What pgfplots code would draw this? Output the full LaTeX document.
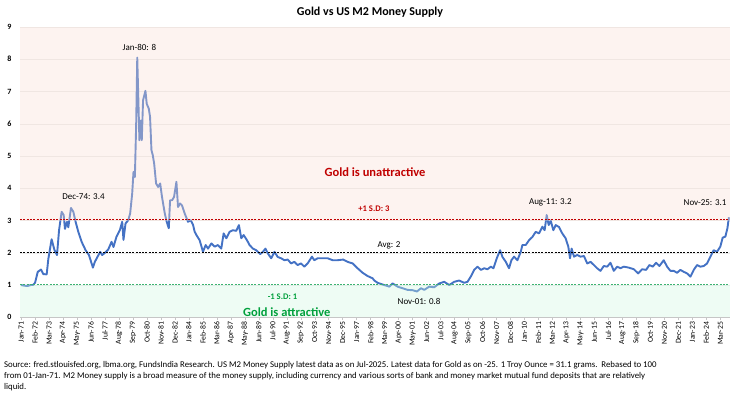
\documentclass[border=0pt]{standalone}
\usepackage{pgfplots}
\pgfplotsset{compat=1.18}
\usepackage{fontspec}
\setmainfont{Carlito}
\definecolor{lineblue}{RGB}{68,114,196}
\definecolor{bandpink}{RGB}{250,221,212}
\definecolor{bandgreen}{RGB}{206,246,224}
\definecolor{sdred}{RGB}{192,0,0}
\definecolor{sdgreen}{RGB}{60,179,113}
\definecolor{txtgreen}{RGB}{0,160,60}
\definecolor{gridc}{RGB}{235,235,235}
\pgfplotstableread{
m v
0 1.00
3 0.98
6 0.97
9 1.00
11 1.00
13 1.07
15.5 1.41
18.5 1.48
20.7 1.34
23.8 1.33
25.3 1.80
28.4 2.42
30.9 2.10
33.4 1.93
35.3 2.70
37.7 3.27
39.6 3.17
40.8 2.74
42.7 2.96
43.9 2.79
46.4 3.39
48.6 3.27
50.7 2.96
53.2 2.65
56.3 2.34
60 2.08
63.1 1.93
64.9 1.74
66.8 1.54
68.6 1.72
71.1 1.88
73.6 2.03
75.4 1.93
77.9 2.00
81 2.10
84.1 2.34
85.9 2.18
88.7 2.50
91.8 2.70
94 2.96
95.2 2.40
97.1 2.91
99.6 3.01
101.4 3.22
103.3 3.84
104.5 4.51
105.8 4.35
107 6.00
108 8.05
110 5.49
111.3 6.10
112.2 5.49
113.4 6.73
115.6 7.02
116.8 6.62
118.7 6.47
119.9 6.21
121.2 5.18
122.4 5.03
123.7 4.77
125.5 4.15
127.4 4.04
129.3 4.15
131 3.73
133.6 3.22
135.4 2.96
137.3 2.76
138.5 3.63
140.4 3.63
142.2 3.73
144.4 4.20
145.9 3.42
147.8 3.53
149.6 3.47
152.1 3.22
155.2 2.96
157.7 3.01
159.9 2.86
161.4 2.65
163 2.55
166 2.39
169.1 2.03
171.6 2.24
173.8 2.13
176.9 2.29
180 2.19
183 2.24
186.1 2.13
188.3 2.60
190.8 2.45
193.8 2.65
196.9 2.70
200 2.68
202.5 2.86
204.7 2.45
206.9 2.55
210 2.39
212.4 2.24
215.5 2.13
218.6 2.08
222.3 1.96
224.8 2.03
227.2 2.13
229.4 1.98
232.5 1.83
235.5 2.03
238.6 1.87
241.7 1.83
244.8 1.77
247.9 1.79
251 1.67
254 1.72
257.1 1.62
260.2 1.67
263.3 1.57
266.4 1.67
270.4 1.88
272.6 1.77
275.7 1.83
280.4 1.83
285 1.83
289.6 1.77
294.3 1.77
299.5 1.79
303.5 1.72
308.2 1.67
312.8 1.52
317.5 1.38
322.1 1.28
326.7 1.21
328.4 1.14
331.4 1.07
333 1.05
337.7 1.00
342.3 0.95
345.4 1.05
350 0.95
354.7 0.90
359.3 0.85
364 0.84
368 0.80
371.7 0.90
374.8 0.85
379.4 0.95
384 0.93
388.7 1.05
393.3 1.10
398 1.00
402.6 1.10
407.2 1.14
411.9 1.07
415 1.10
418 1.26
421.2 1.47
424.3 1.57
427.4 1.47
430.5 1.52
433.6 1.49
436.7 1.57
439.1 1.52
442.2 1.83
445.3 2.08
447.5 1.87
450.6 1.72
453.6 1.52
455.8 1.77
458.3 1.88
461.4 1.77
464.5 2.03
466 2.24
469.1 2.24
472.2 2.39
475.3 2.49
478.4 2.65
481.5 2.60
484.6 2.81
486.7 2.70
488.6 3.17
490.5 2.86
492.3 3.00
494.8 2.70
497 2.86
500 2.80
503.1 2.60
506.2 2.45
508.7 2.19
510.3 1.83
511.8 2.13
514 1.88
517 1.93
520.1 1.88
523.2 1.90
526.3 1.67
529.4 1.72
532.5 1.62
535.5 1.52
538.6 1.44
541.7 1.59
544.8 1.57
547.9 1.69
551 1.44
554.1 1.57
557.2 1.52
560.3 1.57
564.9 1.54
569.6 1.49
573.6 1.36
577.3 1.49
581 1.47
584.1 1.62
587.2 1.57
590.3 1.69
593.4 1.59
597.4 1.77
600.5 1.57
603.6 1.44
606.7 1.44
609.8 1.38
612.9 1.47
616 1.41
619.1 1.36
622.2 1.26
625.3 1.47
628.4 1.62
631.5 1.57
634.6 1.59
637.7 1.67
640.8 1.88
643.8 2.08
646.9 2.03
650 2.19
652.2 2.47
654.7 2.50
656.6 2.76
658 3.10
}\golddata
\begin{document}
\begin{tikzpicture}[x=1pt,y=1pt]
\useasboundingbox (0,0) rectangle (740,399);
\node[font=\bfseries\fontsize{12}{14}\selectfont] at (370,387) {Gold vs US M2 Money Supply};
\begin{axis}[
  at={(20pt,81.7pt)}, anchor=south west,
  scale only axis, width=710pt, height=290.3pt,
  xmin=-1, xmax=659, ymin=0, ymax=9,
  axis x line*=bottom, axis y line*=left,
  x axis line style={draw=gray!45},
  y axis line style={draw=none},
  ytick={0,1,...,9},
  ytick style={draw=none},
  ymajorgrids, grid style={draw=gridc, line width=0.5pt},
  xtick={0,13,...,650},
  xticklabels={Jan-71,Feb-72,Mar-73,Apr-74,May-75,Jun-76,Jul-77,Aug-78,Sep-79,Oct-80,Nov-81,Dec-82,Jan-84,Feb-85,Mar-86,Apr-87,May-88,Jun-89,Jul-90,Aug-91,Sep-92,Oct-93,Nov-94,Dec-95,Jan-97,Feb-98,Mar-99,Apr-00,May-01,Jun-02,Jul-03,Aug-04,Sep-05,Oct-06,Nov-07,Dec-08,Jan-10,Feb-11,Mar-12,Apr-13,May-14,Jun-15,Jul-16,Aug-17,Sep-18,Oct-19,Nov-20,Dec-21,Jan-23,Feb-24,Mar-25},
  xtick style={draw=gray!45, line width=0.5pt},
  tick align=outside, major tick length=3pt,
  xticklabel style={rotate=90, anchor=east, font=\fontsize{7.7}{8}\selectfont, inner sep=1.5pt},
  yticklabel style={font=\bfseries\fontsize{8}{9}\selectfont, xshift=-2pt},
  /pgf/number format/assume math mode=true,
  clip=true,
]
\addplot[lineblue, line width=1.9pt, line join=round] table[x=m,y=v] {\golddata};
\addplot[draw=none, fill=bandpink, fill opacity=0.35] coordinates {(-1,3) (659,3) (659,9) (-1,9)} -- cycle;
\addplot[draw=none, fill=bandgreen, fill opacity=0.35] coordinates {(-1,0) (659,0) (659,1) (-1,1)} -- cycle;
\addplot[sdred, line width=0.8pt, dash pattern=on 2pt off 1.3pt] coordinates {(-1,3.02) (659,3.02)};
\addplot[black, line width=0.8pt, dash pattern=on 2pt off 1.3pt] coordinates {(-1,2) (659,2)};
\addplot[sdgreen, line width=0.8pt, dash pattern=on 2pt off 1.3pt] coordinates {(-1,1.02) (659,1.02)};
\node[font=\fontsize{9}{10}\selectfont] at (axis cs:110,8.37) {Jan-80: 8};
\node[font=\fontsize{9}{10}\selectfont] at (axis cs:58,3.73) {Dec-74: 3.4};
\node[font=\fontsize{9}{10}\selectfont] at (axis cs:492,3.55) {Aug-11: 3.2};
\node[font=\fontsize{9}{10}\selectfont, anchor=east] at (axis cs:659,3.55) {Nov-25: 3.1};
\node[font=\fontsize{9}{10}\selectfont] at (axis cs:370,0.48) {Nov-01: 0.8};
\node[font=\bfseries\fontsize{8.6}{9}\selectfont, text=sdred] at (axis cs:328,3.38) {+1 S.D: 3};
\node[font=\fontsize{9}{10}\selectfont] at (axis cs:342,2.22) {Avg: 2};
\node[font=\bfseries\fontsize{8.6}{9}\selectfont, text=txtgreen] at (axis cs:243,0.64) {-1 S.D: 1};
\node[font=\bfseries\fontsize{12.5}{14}\selectfont, text=sdred] at (axis cs:329,4.5) {Gold is unattractive};
\node[font=\bfseries\fontsize{12.5}{14}\selectfont, text=txtgreen] at (axis cs:247,0.17) {Gold is attractive};
\end{axis}
\node[anchor=north west, align=left, inner sep=0pt, font=\fontsize{8.8}{11.3}\selectfont] at (4,38) {Source: fred.stlouisfed.org, lbma.org, FundsIndia Research. US M2 Money Supply latest data as on Jul-2025. Latest data for Gold as on -25. 1 Troy Ounce = 31.1 grams.\ \ Rebased to 100\\from 01-Jan-71. M2 Money supply is a broad measure of the money supply, including currency and various sorts of bank and money market mutual fund deposits that are relatively\\liquid.};
\end{tikzpicture}
\end{document}
